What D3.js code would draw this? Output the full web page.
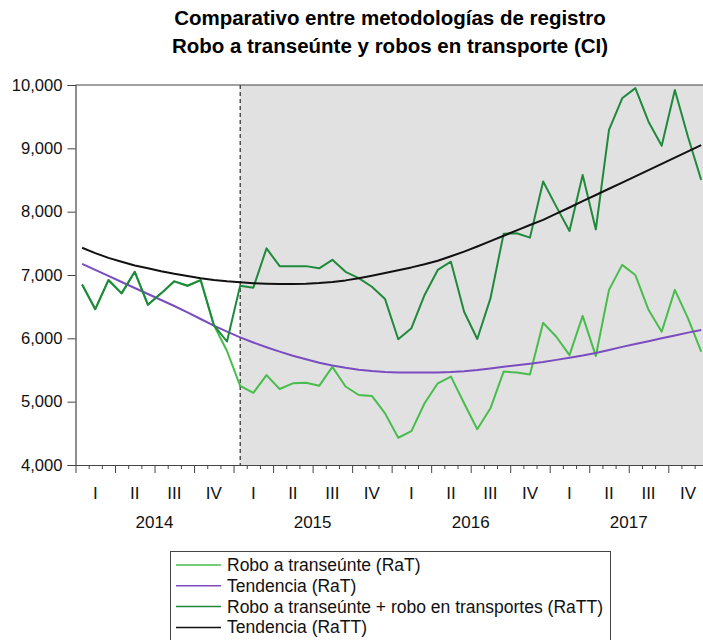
<!DOCTYPE html>
<html>
<head>
<meta charset="utf-8">
<script src="https://cdn.jsdelivr.net/npm/d3@7"></script>
<style>
  html, body { margin: 0; padding: 0; background: #fff; }
  svg { display: block; font-family: "Liberation Sans", Arial, sans-serif; }
</style>
</head>
<body>
<svg id="chart" width="703" height="640"></svg>
<script>
// ---- data ----
const years = ["2014", "2015", "2016", "2017"];
const quarterLabels = ["I", "II", "III", "IV"];
const yTicks = [4000, 5000, 6000, 7000, 8000, 9000, 10000];
const titleLines = ["Comparativo entre metodologías de registro", "Robo a transeúnte y robos en transporte (CI)"];

// monthly values Jan 2014 .. Dec 2017
const rat = [6850, 6460, 6920, 6710, 7050, 6530, 6710, 6900, 6830, 6920, 6210, 5800,
  5250, 5140, 5420, 5200, 5290, 5300, 5250, 5550, 5240, 5105, 5090, 4815,
  4430, 4535, 4975, 5290, 5395, 4975, 4565, 4895, 5475, 5460, 5430, 6245,
  6025, 5735, 6355, 5720, 6765, 7160, 7000, 6450, 6105, 6765, 6315, 5790];
const trendRat = [7175, 7080, 6985, 6890, 6795, 6700, 6605, 6510, 6410, 6305, 6200, 6105,
  6015, 5935, 5860, 5790, 5725, 5670, 5615, 5570, 5535, 5505, 5485, 5470,
  5462, 5460, 5460, 5462, 5468, 5480, 5500, 5525, 5550, 5575, 5600, 5625,
  5660, 5695, 5730, 5770, 5815, 5865, 5910, 5955, 6000, 6045, 6090, 6130];
const ratt = [6850, 6460, 6920, 6710, 7050, 6530, 6710, 6900, 6830, 6920, 6210, 5950,
  6830, 6800, 7420, 7140, 7140, 7140, 7105, 7240, 7050, 6950, 6815, 6620,
  5985, 6160, 6685, 7080, 7210, 6420, 5990, 6630, 7650, 7660, 7590, 8475,
  8080, 7695, 8580, 7720, 9290, 9790, 9950, 9420, 9040, 9920, 9180, 8500];
const trendRatt = [7430, 7345, 7270, 7210, 7150, 7105, 7060, 7020, 6985, 6950, 6920, 6900,
  6885, 6870, 6862, 6858, 6858, 6862, 6872, 6890, 6915, 6950, 6988, 7030,
  7075, 7120, 7170, 7225, 7295, 7370, 7450, 7535, 7620, 7705, 7790, 7870,
  7968, 8066, 8165, 8263, 8362, 8460, 8558, 8657, 8755, 8853, 8952, 9050];

const seriesNames = ["Robo a transeúnte (RaT)", "Tendencia (RaT)",
  "Robo a transeúnte + robo en transportes (RaTT)", "Tendencia (RaTT)"];
const seriesColors = ["#47bd4b", "#7a4cbf", "#1f8a3c", "#111111"];
const seriesData = [rat, trendRat, ratt, trendRatt];
const breakMonth = 12; // Jan 2015: start of new methodology

// ---- layout ----
const svg = d3.select("#chart");
const pLeft = 75.5, pRight = 707.8, pTop = 85, pBottom = 465;
const nMonths = years.length * 12;
const x = d3.scaleLinear().domain([0, nMonths]).range([pLeft, pRight]);
const y = d3.scaleLinear().domain([4000, 10000]).range([pBottom, pTop]);

// shaded region
svg.append("rect")
  .attr("x", x(breakMonth + 0.5)).attr("y", pTop)
  .attr("width", pRight - x(breakMonth + 0.5)).attr("height", pBottom - pTop)
  .attr("fill", "#e1e1e1");

// dashed divider
svg.append("line")
  .attr("x1", x(breakMonth + 0.5)).attr("x2", x(breakMonth + 0.5))
  .attr("y1", pTop).attr("y2", pBottom)
  .attr("stroke", "#000").attr("stroke-width", 1).attr("stroke-dasharray", "4,3");

// top border
svg.append("line").attr("x1", pLeft).attr("x2", pRight).attr("y1", pTop).attr("y2", pTop)
  .attr("stroke", "#444").attr("stroke-width", 1.2);

// lines
const line = d3.line().x((d, i) => x(i + 0.5)).y(d => y(d));
seriesData.forEach((s, k) => {
  svg.append("path").datum(s)
    .attr("d", line)
    .attr("fill", "none")
    .attr("stroke", seriesColors[k])
    .attr("stroke-width", 2)
    .attr("stroke-linejoin", "round");
});

// y axis
const yAxis = d3.axisLeft(y).tickValues(yTicks).tickFormat(d3.format(",")).tickSize(8).tickPadding(5);
const gy = svg.append("g").attr("transform", `translate(${pLeft},0)`).call(yAxis);
gy.select(".domain").attr("stroke", "#444").attr("stroke-width", 1.2);
gy.selectAll(".tick line").attr("stroke", "#444");
gy.selectAll(".tick text").attr("font-size", 16.6).attr("fill", "#111")
  .attr("font-family", "Liberation Sans, Arial, sans-serif");

// x axis
const xAxis = d3.axisBottom(x).tickValues(d3.range(0, nMonths + 1)).tickFormat("").tickSizeOuter(0);
const gx = svg.append("g").attr("transform", `translate(0,${pBottom})`).call(xAxis);
gx.select(".domain").attr("stroke", "#444").attr("stroke-width", 1.2);
gx.selectAll(".tick line").attr("stroke", "#444").attr("y2", d => d % 3 === 0 ? 8 : 4);

// quarter labels
const quarters = d3.range(0, years.length * 4);
svg.append("g").selectAll("text").data(quarters).join("text")
  .attr("x", q => x(q * 3 + 1.5)).attr("y", 499)
  .attr("text-anchor", "middle").attr("font-size", 17).attr("fill", "#111")
  .text(q => quarterLabels[q % 4]);

// year labels
svg.append("g").selectAll("text").data(years).join("text")
  .attr("x", (d, i) => x(i * 12 + 6)).attr("y", 528)
  .attr("text-anchor", "middle").attr("font-size", 17).attr("fill", "#111")
  .text(d => d);

// title
svg.append("g").selectAll("text").data(titleLines).join("text")
  .attr("x", 390).attr("y", (d, i) => 25 + i * 28)
  .attr("text-anchor", "middle").attr("font-size", 20.5).attr("font-weight", "bold")
  .attr("fill", "#000")
  .text(d => d);

// legend
const lg = svg.append("g");
lg.append("rect").attr("x", 170.5).attr("y", 551.5).attr("width", 440).attr("height", 100)
  .attr("fill", "#fff").attr("stroke", "#444").attr("stroke-width", 1);
seriesNames.forEach((name, k) => {
  const cy = 565 + k * 20.8;
  lg.append("line").attr("x1", 176).attr("x2", 221).attr("y1", cy).attr("y2", cy)
    .attr("stroke", seriesColors[k]).attr("stroke-width", 1.5);
  lg.append("text").attr("x", 227).attr("y", cy + 6)
    .attr("font-size", 17.5).attr("fill", "#111").text(name);
});
</script>
</body>
</html>
